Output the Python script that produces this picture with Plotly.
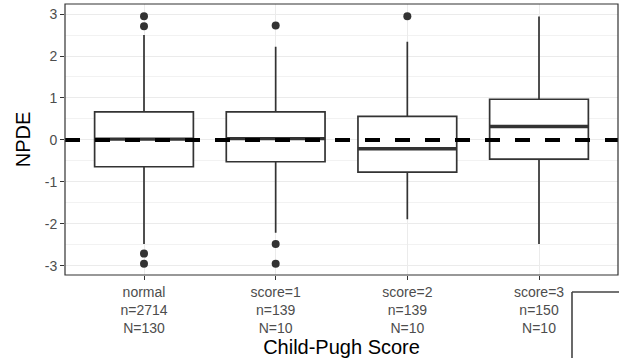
import plotly.graph_objects as go

# Child-Pugh groups and their NPDE box statistics
categories = ["normal", "score=1", "score=2", "score=3"]
n_obs = [2714, 139, 139, 150]
n_subj = [130, 10, 10, 10]
q1 = [-0.64, -0.52, -0.77, -0.46]
median = [0.02, 0.03, -0.21, 0.32]
q3 = [0.67, 0.67, 0.56, 0.97]
lower_whisker = [-2.48, -2.21, -1.89, -2.48]
upper_whisker = [2.50, 2.22, 2.34, 2.94]
outliers = [
    [2.95, 2.71, -2.71, -2.95],
    [2.73, -2.48, -2.95],
    [2.95],
    [],
]

tick_labels = [f"{c}<br>n={n}<br>N={m}" for c, n, m in zip(categories, n_obs, n_subj)]
xpos = list(range(len(categories)))
box_w = 0.75
dark = "#333333"

fig = go.Figure()

for i in xpos:
    fig.add_trace(go.Box(
        x=[i], q1=[q1[i]], median=[median[i]], q3=[q3[i]],
        lowerfence=[lower_whisker[i]], upperfence=[upper_whisker[i]],
        width=box_w, fillcolor="white",
        line=dict(color=dark, width=1.7),
        whiskerwidth=0, showlegend=False, hoverinfo="skip",
    ))
    # thicker median bar, as in ggplot
    fig.add_trace(go.Scatter(
        x=[i - box_w / 2, i + box_w / 2], y=[median[i], median[i]],
        mode="lines", line=dict(color=dark, width=3.4),
        showlegend=False, hoverinfo="skip",
    ))
    if outliers[i]:
        fig.add_trace(go.Scatter(
            x=[i] * len(outliers[i]), y=outliers[i], mode="markers",
            marker=dict(color=dark, size=8),
            showlegend=False, hoverinfo="skip",
        ))

# dashed reference line at zero
fig.add_shape(type="line", xref="paper", x0=0, x1=1, yref="y", y0=0, y1=0,
              line=dict(color="black", width=4, dash="15px,15px"), layer="above")

# panel border
fig.add_shape(type="rect", xref="paper", yref="paper", x0=0, x1=1, y0=0, y1=1,
              line=dict(color=dark, width=1.2), layer="above")

W, H = 619, 358
ml, mr, mt, mb = 65, 1, 4, 83
pw, ph = W - ml - mr, H - mt - mb

def px_x(x):
    return (x - ml) / pw

def px_y(y):
    return (H - mb - y) / ph

# corner of a neighbouring frame in the lower right
fig.add_shape(type="line", xref="paper", yref="paper",
              x0=px_x(572), x1=px_x(620), y0=px_y(292), y1=px_y(292),
              line=dict(color="#444444", width=1.6))
fig.add_shape(type="line", xref="paper", yref="paper",
              x0=px_x(572), x1=px_x(572), y0=px_y(292), y1=px_y(360),
              line=dict(color="#444444", width=1.6))

fig.update_layout(
    width=W, height=H,
    margin=dict(l=ml, r=mr, t=mt, b=mb),
    paper_bgcolor="white", plot_bgcolor="white",
    font=dict(family="Liberation Sans, Arial, sans-serif"),
    xaxis=dict(
        range=[-0.6, 3.6], tickmode="array", tickvals=xpos, ticktext=tick_labels,
        showgrid=True, gridcolor="#EBEBEB", gridwidth=1.2, zeroline=False,
        ticks="outside", ticklen=4, tickcolor=dark, tickwidth=1.2,
        tickfont=dict(size=14, color="#4D4D4D"),
        title=dict(text="Child-Pugh Score", font=dict(size=20, color="black"), standoff=2),
    ),
    yaxis=dict(
        range=[-3.22, 3.24], tickmode="array", tickvals=[-3, -2, -1, 0, 1, 2, 3],
        ticktext=["-3", "-2", "-1", "0", "1", "2", "3"],
        showgrid=True, gridcolor="#EBEBEB", gridwidth=1.2, zeroline=False,
        minor=dict(tickmode="array", tickvals=[-2.5, -1.5, -0.5, 0.5, 1.5, 2.5],
                   showgrid=True, gridcolor="#F2F2F2", gridwidth=0.6, ticks=""),
        ticks="outside", ticklen=4, tickcolor=dark, tickwidth=1.2,
        tickfont=dict(size=14, color="#4D4D4D"),
        title=dict(text="NPDE", font=dict(size=20, color="black"), standoff=8),
    ),
)

fig.write_html("out.html")
